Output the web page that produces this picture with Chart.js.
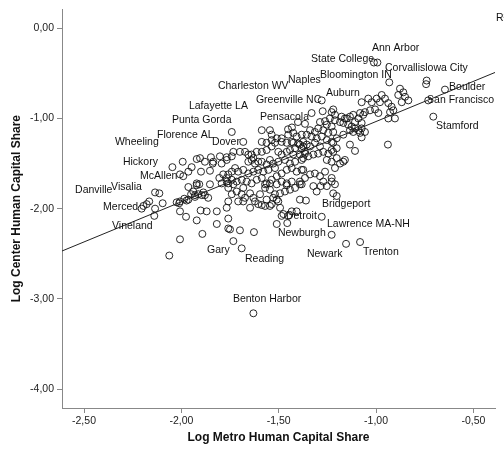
<!DOCTYPE html>
<html>
<head>
<meta charset="utf-8">
<script src="https://cdn.jsdelivr.net/npm/chart.js@4.4.0/dist/chart.umd.min.js"></script>
<style>
    html, body { margin: 0; padding: 0; background: #fff; }
    #wrap { width: 504px; height: 455px; position: relative; }
</style>
</head>
<body>
<div id="wrap"><canvas id="scatter-chart"></canvas></div>
<script>
// Log metro vs log center human capital share (one point per metro area)
const metroShare = [
    -2.204,-2.195,-2.178,-2.165,-2.135,-2.113,-2.135,-2.139,-2.096,-2.062,
    -2.046,-2.024,-2.011,-2.007,-1.985,-1.973,-1.964,-2.007,-1.976,-2.007,
    -1.993,-1.921,-1.964,-1.947,-2.007,-1.990,-1.964,-1.899,-1.853,-1.921,
    -1.908,-1.921,-1.950,-1.930,-1.939,-1.913,-1.887,-1.879,-1.930,-1.895,
    -1.862,-1.901,-1.921,-1.870,-1.818,-1.892,-1.818,-1.759,-1.759,-1.699,
    -1.627,-1.733,-1.690,-1.848,-1.839,-1.802,-1.793,-1.767,-1.805,-1.785,
    -1.767,-1.759,-1.793,-1.853,-1.879,-1.904,-1.836,-1.741,-1.682,-1.733,
    -1.741,-1.699,-1.673,-1.656,-1.639,-1.613,-1.630,-1.605,-1.767,-1.587,
    -1.545,-1.587,-1.562,-1.536,-1.510,-1.485,-1.459,-1.425,-1.391,-1.536,
    -1.485,-1.519,-1.536,-1.562,-1.587,-1.451,-1.425,-1.408,-1.382,-1.433,
    -1.399,-1.374,-1.416,-1.442,-1.459,-1.425,-1.391,-1.365,-1.382,-1.416,
    -1.442,-1.468,-1.485,-1.502,-1.639,-1.656,-1.622,-1.587,-1.562,-1.545,
    -1.528,-1.502,-1.519,-1.553,-1.579,-1.605,-1.630,-1.656,-1.682,-1.708,
    -1.724,-1.741,-1.759,-1.767,-1.741,-1.716,-1.690,-1.664,-1.639,-1.613,
    -1.587,-1.562,-1.536,-1.510,-1.485,-1.459,-1.433,-1.408,-1.382,-1.485,
    -1.510,-1.459,-1.433,-1.570,-1.545,-1.519,-1.493,-1.468,-1.442,-1.416,
    -1.391,-1.622,-1.605,-1.647,-1.570,-1.536,-1.502,-1.493,-1.433,-1.408,
    -1.451,-1.476,-1.708,-1.673,-1.759,-1.741,-1.716,-1.690,-1.759,-1.767,
    -1.733,-1.682,-1.647,-1.630,-1.596,-1.562,-1.528,-1.459,-1.391,-1.360,
    -1.682,-1.587,-1.545,-1.510,-1.485,-1.456,-1.510,-1.750,
    -1.391,-1.570,-1.545,-1.284,-1.211,-1.279,-1.228,-1.154,-1.082,-1.630,
    -1.279,-1.331,-1.274,-1.228,-1.220,-1.374,-1.356,-1.382,-1.365,-1.339,
    -1.314,-1.288,-1.271,-1.297,-1.322,-1.348,-1.374,-1.245,-1.220,-1.202,
    -1.228,-1.253,-1.134,-1.185,-1.168,-1.374,-1.365,-1.382,-1.262,-1.288,
    -1.271,-1.253,-1.220,-1.202,-1.339,-1.314,-1.228,-1.322,-1.305,-1.314,
    -1.339,-1.356,-1.331,-1.305,-1.279,-1.253,-1.228,-1.202,-1.237,-1.211,
    -1.262,-1.288,-1.297,-1.253,-1.228,-1.220,-1.245,-1.271,-1.185,-1.168,
    -1.143,-1.125,-1.108,-1.091,-1.074,-1.108,-1.091,-1.066,-1.057,-1.082,
    -1.134,-1.160,-1.177,-1.117,-1.082,-1.057,-1.211,-1.202,-1.228,-1.220,
    -1.134,-1.168,-1.074,-1.040,-1.022,-0.997,-0.971,-0.954,-0.980,-0.937,
    -0.920,-0.911,-0.928,-0.903,-0.937,-0.886,-0.860,-0.851,-0.834,-0.868,
    -0.877,-0.932,-1.011,-0.993,-0.740,-0.743,-0.646,-0.732,-0.706,-0.939,
    -1.074,-1.108,-1.160,-1.211,-1.228,-1.031,-1.005,-0.988,-1.117,-1.074,
    -1.151,-1.401,-1.432,-1.365,-1.452
];
const centerShare = [
    -2.00,-1.97,-1.95,-1.92,-1.82,-1.83,-2.00,-2.08,-1.94,-2.52,
    -1.54,-1.93,-1.94,-1.92,-1.89,-1.91,-1.90,-2.03,-2.09,-2.34,
    -1.48,-1.45,-1.59,-1.54,-1.62,-1.64,-1.76,-1.59,-1.58,-1.72,
    -1.73,-1.74,-1.84,-1.85,-1.81,-1.84,-1.82,-1.85,-1.87,-1.85,
    -1.88,-2.02,-2.13,-2.03,-2.03,-2.28,-2.17,-2.11,-2.22,-2.24,
    -2.26,-2.36,-2.44,-1.43,-1.50,-1.42,-1.50,-1.43,-1.66,-1.62,
    -1.66,-1.72,-1.72,-1.73,-1.48,-1.44,-1.48,-1.15,-1.26,-1.37,
    -1.42,-1.37,-1.37,-1.40,-1.40,-1.37,-1.44,-1.48,-1.46,-1.13,
    -1.13,-1.26,-1.27,-1.24,-1.22,-1.26,-1.27,-1.27,-1.29,-1.18,
    -1.22,-1.27,-1.31,-1.35,-1.37,-1.18,-1.16,-1.20,-1.18,-1.26,
    -1.28,-1.31,-1.33,-1.35,-1.37,-1.40,-1.40,-1.39,-1.46,-1.48,
    -1.50,-1.46,-1.40,-1.37,-1.46,-1.48,-1.50,-1.48,-1.51,-1.46,
    -1.50,-1.48,-1.55,-1.57,-1.59,-1.57,-1.59,-1.61,-1.57,-1.59,
    -1.55,-1.59,-1.62,-1.70,-1.68,-1.70,-1.68,-1.70,-1.72,-1.68,
    -1.66,-1.72,-1.68,-1.64,-1.61,-1.57,-1.55,-1.59,-1.57,-1.70,
    -1.73,-1.72,-1.70,-1.77,-1.79,-1.84,-1.83,-1.81,-1.79,-1.77,
    -1.73,-1.92,-1.95,-1.99,-1.97,-1.95,-1.92,-1.99,-2.03,-2.03,
    -2.08,-2.06,-1.92,-1.88,-1.77,-1.84,-1.81,-1.84,-1.92,-1.99,
    -1.73,-1.77,-1.83,-1.88,-1.84,-1.90,-1.88,-1.74,-1.90,-1.91,
    -1.92,-1.96,-1.97,-1.90,-2.08,-2.16,-2.17,-2.23,
    -1.70,-1.73,-1.72,-1.75,-1.73,-2.09,-2.29,-2.39,-2.37,-3.16,
    -0.80,-0.94,-0.92,-0.93,-0.90,-1.26,-1.29,-1.33,-1.37,-1.31,
    -1.27,-1.31,-1.37,-1.39,-1.40,-1.42,-1.44,-1.39,-1.37,-1.44,
    -1.48,-1.46,-1.29,-1.50,-1.48,-1.57,-1.66,-1.73,-1.59,-1.64,
    -1.70,-1.75,-1.83,-1.86,-1.62,-1.61,-1.70,-1.75,-1.81,-1.15,
    -1.13,-1.18,-1.20,-1.22,-1.20,-1.24,-1.26,-1.22,-1.00,-1.02,
    -1.03,-1.04,-1.11,-1.07,-1.09,-1.15,-1.16,-1.13,-1.04,-1.05,
    -1.07,-1.09,-1.11,-1.13,-1.11,-1.04,-1.00,-0.96,-0.93,-0.94,
    -0.98,-1.00,-0.98,-1.15,-1.16,-1.15,-0.96,-1.33,-1.35,-1.27,
    -1.13,-1.18,-0.82,-0.78,-0.82,-0.78,-0.74,-0.78,-0.82,-0.83,
    -0.87,-0.91,-0.93,-1.00,-1.00,-0.74,-0.71,-0.76,-0.80,-0.82,
    -0.67,-0.60,-0.38,-0.38,-0.58,-0.62,-0.68,-0.80,-0.98,-1.29,
    -1.21,-1.36,-1.46,-1.55,-1.66,-0.91,-0.90,-0.94,-0.96,-1.05,
    -1.00,-1.04,-1.10,-1.06,-1.12
];

// city names and where their text sits (data units, left edge / middle)
const cityNames = ['State College', 'Ann Arbor', 'Corvallislowa City', 'Naples', 'Bloomington IN',
    'Charleston WV', 'Boulder', 'Auburn', 'Greenville NC', 'San Francisco', 'Lafayette LA',
    'Pensacola', 'Punta Gorda', 'Stamford', 'Wheeling', 'Florence AL', 'Dover', 'Hickory',
    'McAllen', 'Danville', 'Visalia', 'Merced', 'Vineland', 'Bridgeport', 'Detroit',
    'Lawrence MA-NH', 'Newburgh', 'Gary', 'Reading', 'Newark', 'Trenton', 'Benton Harbor'];
const cityX = [-1.334, -1.021, -0.954, -1.452, -1.288, -1.812, -0.625, -1.257, -1.617, -0.738, -1.961,
    -1.596, -2.048, -0.692, -2.341, -2.125, -1.843, -2.300, -2.212, -2.546, -2.361, -2.402,
    -2.356, -1.278, -1.463, -1.252, -1.504, -1.868, -1.673, -1.355, -1.067, -1.735];
const cityY = [-0.34, -0.22, -0.44, -0.57, -0.52, -0.64, -0.65, -0.72, -0.80, -0.80, -0.86,
    -0.98, -1.02, -1.09, -1.26, -1.18, -1.26, -1.48, -1.64, -1.79, -1.76, -1.98,
    -2.19, -1.95, -2.08, -2.17, -2.27, -2.46, -2.56, -2.50, -2.48, -3.00];

const xTicks = [-2.5, -2.0, -1.5, -1.0, -0.5];
const yTicks = [0, -1, -2, -3, -4];

// linear fit line
const fitSlope = 0.89;
const fitIntercept = -0.144;
const xMin = -2.613, xMax = -0.389;

const points = metroShare.map((x, i) => ({ x: x, y: centerShare[i] }));
const fitLine = [xMin, xMax].map(x => ({ x: x, y: fitIntercept + fitSlope * x }));

const fontFamily = '"Liberation Sans", Arial, sans-serif';
const fmt = v => v.toFixed(2).replace('.', ',');

const cityLabels = {
    id: 'cityLabels',
    afterDatasetsDraw(chart) {
        const ctx = chart.ctx;
        const xs = chart.scales.x, ys = chart.scales.y;
        ctx.save();
        ctx.font = '10.5px ' + fontFamily;
        ctx.fillStyle = '#111';
        ctx.textAlign = 'left';
        ctx.textBaseline = 'middle';
        cityNames.forEach((name, i) => {
            ctx.fillText(name, xs.getPixelForValue(cityX[i]), ys.getPixelForValue(cityY[i]));
        });
        // fit legend text, cut by the canvas edge like the original
        ctx.fillText('R² Linear = 0,403', chart.chartArea.right + 1, chart.chartArea.top + 9);
        ctx.restore();
    }
};

new Chart(document.getElementById('scatter-chart'), {
    type: 'scatter',
    data: {
        datasets: [{
            data: points,
            pointStyle: 'circle',
            pointRadius: 3.5,
            pointBorderWidth: 1,
            borderColor: 'rgba(20, 20, 20, 0.9)',
            backgroundColor: 'rgba(0, 0, 0, 0)',
            order: 2
        }, {
            type: 'line',
            data: fitLine,
            borderColor: '#222',
            borderWidth: 1,
            pointRadius: 0,
            fill: false,
            order: 1
        }]
    },
    options: {
        responsive: true,
        maintainAspectRatio: false,
        animation: false,
        layout: {
            padding: { top: 7, right: 9, left: 0, bottom: 0 }
        },
        plugins: {
            legend: { display: false },
            tooltip: { enabled: false }
        },
        scales: {
            x: {
                type: 'linear',
                min: xMin,
                max: xMax,
                afterBuildTicks: s => { s.ticks = xTicks.map(v => ({ value: v })); },
                afterFit: s => { s.height = 47; },
                ticks: {
                    color: '#222',
                    font: { family: fontFamily, size: 10.5 },
                    padding: 2,
                    maxRotation: 0,
                    callback: v => fmt(v)
                },
                grid: { drawOnChartArea: false, drawTicks: true, tickLength: 5, color: '#888' },
                border: { display: true, color: '#888' },
                title: {
                    display: true,
                    text: 'Log Metro Human Capital Share',
                    color: '#111',
                    font: { family: fontFamily, size: 12, weight: 'bold' },
                    padding: { top: 4, bottom: 10 }
                }
            },
            y: {
                type: 'linear',
                min: -4.21,
                max: 0.21,
                afterBuildTicks: s => { s.ticks = yTicks.map(v => ({ value: v })); },
                afterFit: s => { s.width = 62; },
                ticks: {
                    color: '#222',
                    font: { family: fontFamily, size: 10.5 },
                    padding: 3,
                    callback: v => fmt(v)
                },
                grid: { drawOnChartArea: false, drawTicks: true, tickLength: 5, color: '#888' },
                border: { display: true, color: '#888' },
                title: {
                    display: true,
                    text: 'Log Center Human Capital Share',
                    color: '#111',
                    font: { family: fontFamily, size: 12, weight: 'bold' },
                    padding: { top: 9, bottom: 4 }
                }
            }
        }
    },
    plugins: [cityLabels]
});
</script>
</body>
</html>
